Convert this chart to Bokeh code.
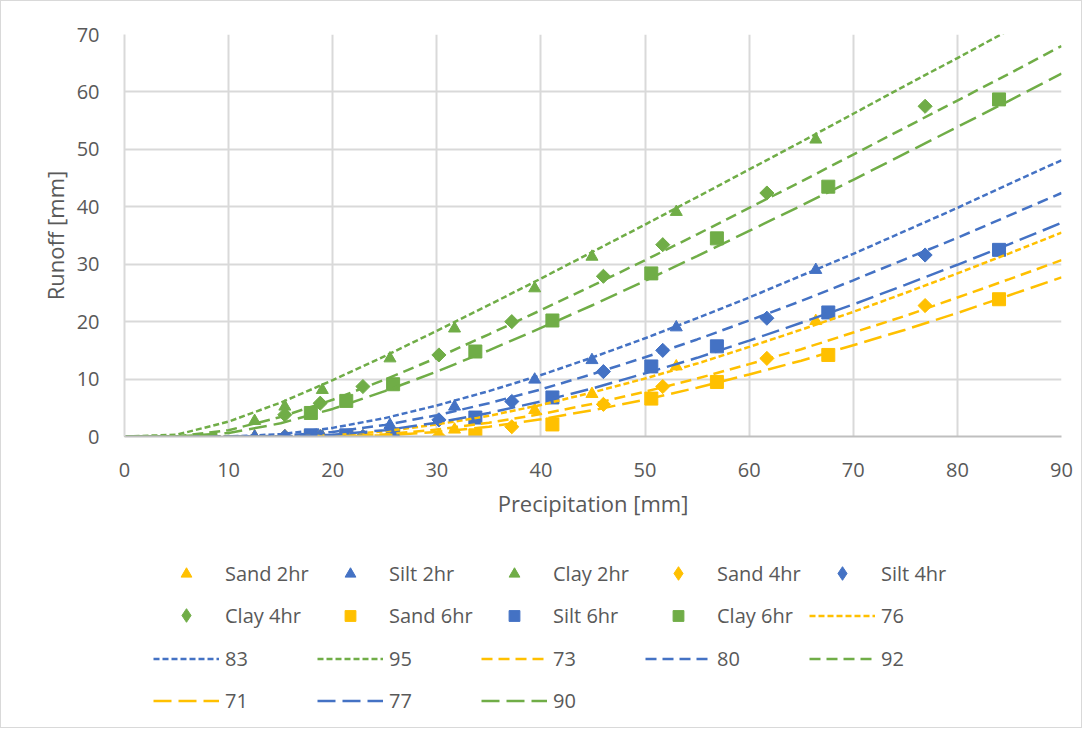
from bokeh.plotting import figure
from bokeh.layouts import column
from bokeh.models import Range1d, FixedTicker, Legend, LegendItem
from bokeh.embed import file_html
from bokeh.resources import INLINE

SAND = "#FFC000"
SILT = "#4472C4"
CLAY = "#70AD47"
TXT = "#595959"
FONT = "Open Sans"

# ---- measured points ----
P_2hr = [12.5, 15.4, 19.0, 25.5, 31.7, 39.4, 44.9, 53.0, 66.4]
sand_2hr = [0, 0, 0, 0, 1.2, 4.6, 7.4, 12.2, 20.1]
silt_2hr = [0, 0, 0, 2.0, 5.2, 9.9, 13.3, 19.0, 29.0]
clay_2hr = [2.7, 5.2, 8.1, 13.6, 18.8, 25.8, 31.3, 39.1, 51.7]

P_4hr = [15.4, 18.8, 22.9, 30.2, 37.2, 46.0, 51.7, 61.7, 76.9]
sand_4hr = [0, 0, 0, 0, 1.7, 5.6, 8.7, 13.6, 22.8]
silt_4hr = [0, 0, 0, 2.9, 6.1, 11.3, 15.0, 20.6, 31.6]
clay_4hr = [3.8, 5.8, 8.7, 14.2, 20.0, 27.9, 33.4, 42.4, 57.5]

P_6hr = [17.9, 21.3, 25.8, 33.7, 41.1, 50.6, 56.9, 67.6, 84.0]
sand_6hr = [0, 0, 0, 0.2, 2.1, 6.6, 9.5, 14.2, 23.9]
silt_6hr = [0.2, 0.2, 0.4, 3.3, 6.8, 12.2, 15.7, 21.6, 32.5]
clay_6hr = [4.1, 6.2, 9.1, 14.8, 20.2, 28.4, 34.5, 43.5, 58.7]

# ---- curve-number lines ----
P_curve = [0, 5, 10, 15, 20, 25, 30, 35, 40, 45, 50, 55, 60, 65, 70, 75, 80, 85, 90]
cn76 = [0, 0, 0, 0, 0.2, 0.9, 2.1, 3.6, 5.5, 7.7, 10.1, 12.7, 15.6, 18.6, 21.7, 25.0, 28.4, 31.9, 35.5]
cn83 = [0, 0, 0, 0.4, 1.5, 3.2, 5.4, 7.9, 10.7, 13.8, 17.1, 20.6, 24.2, 28.0, 31.8, 35.8, 39.8, 44.0, 48.1]
cn95 = [0, 0.3, 2.6, 5.9, 9.8, 14.0, 18.4, 22.9, 27.5, 32.2, 36.9, 41.7, 46.5, 51.3, 56.2, 61.1, 65.9, 70.8, 75.7]
cn73 = [0, 0, 0, 0, 0.0, 0.4, 1.2, 2.4, 3.9, 5.7, 7.8, 10.1, 12.6, 15.2, 18.1, 21.0, 24.2, 27.4, 30.7]
cn80 = [0, 0, 0, 0.1, 0.8, 2.0, 3.7, 5.8, 8.2, 10.9, 13.8, 16.9, 20.2, 23.6, 27.2, 30.9, 34.6, 38.5, 42.4]
cn92 = [0, 0.0, 1.1, 3.4, 6.4, 9.9, 13.7, 17.8, 22.0, 26.3, 30.7, 35.2, 39.8, 44.4, 49.1, 53.8, 58.5, 63.2, 68.0]
cn71 = [0, 0, 0, 0, 0, 0.2, 0.8, 1.7, 3.0, 4.6, 6.4, 8.5, 10.8, 13.2, 15.9, 18.6, 21.5, 24.6, 27.7]
cn77 = [0, 0, 0, 0, 0.3, 1.1, 2.4, 4.1, 6.1, 8.4, 11.0, 13.7, 16.7, 19.8, 23.0, 26.4, 29.9, 33.5, 37.2]
cn90 = [0, 0, 0.6, 2.3, 4.8, 7.9, 11.3, 15.0, 18.9, 22.9, 27.1, 31.4, 35.8, 40.2, 44.7, 49.3, 53.9, 58.5, 63.2]

x_ticks = [0, 10, 20, 30, 40, 50, 60, 70, 80, 90]
y_ticks = [0, 10, 20, 30, 40, 50, 60, 70]

scatter_series = [
    ("Sand 2hr", P_2hr, sand_2hr, "triangle", SAND),
    ("Silt 2hr", P_2hr, silt_2hr, "triangle", SILT),
    ("Clay 2hr", P_2hr, clay_2hr, "triangle", CLAY),
    ("Sand 4hr", P_4hr, sand_4hr, "diamond", SAND),
    ("Silt 4hr", P_4hr, silt_4hr, "diamond", SILT),
    ("Clay 4hr", P_4hr, clay_4hr, "diamond", CLAY),
    ("Sand 6hr", P_6hr, sand_6hr, "square", SAND),
    ("Silt 6hr", P_6hr, silt_6hr, "square", SILT),
    ("Clay 6hr", P_6hr, clay_6hr, "square", CLAY),
]
SHORT, MED, LONG = "6 3", "11 6", "18 7"
line_series = [
    ("76", cn76, SAND, SHORT), ("83", cn83, SILT, SHORT), ("95", cn95, CLAY, SHORT),
    ("73", cn73, SAND, MED), ("80", cn80, SILT, MED), ("92", cn92, CLAY, MED),
    ("71", cn71, SAND, LONG), ("77", cn77, SILT, LONG), ("90", cn90, CLAY, LONG),
]
LW = 2.5


def add_scatter(fig, x, y, shape, color, legend=False):
    if shape == "triangle":
        return fig.scatter(x, y, marker="triangle", size=12, color=color)
    if shape == "diamond":
        if legend:
            return fig.scatter(x, y, marker="diamond", size=14, color=color)
        return fig.scatter(x, y, marker="square", angle=0.7854, size=10, color=color)
    return fig.scatter(x, y, marker="square", size=13, color=color)


# ---------------- main chart ----------------
W = 1080
H1 = 530
p = figure(width=W, height=H1, output_backend="svg", toolbar_location=None,
           x_range=Range1d(0, 90), y_range=Range1d(0, 70),
           min_border_left=123, min_border_right=W - 123 - 937, min_border_top=33,
           min_border_bottom=H1 - 33 - 402)
p.outline_line_color = None
p.background_fill_color = "white"
p.border_fill_color = "white"

for ax in (p.xaxis[0], p.yaxis[0]):
    ax.major_tick_line_color = None
    ax.minor_tick_line_color = None
    ax.major_label_text_font = FONT
    ax.major_label_text_font_size = "20px"
    ax.major_label_text_color = TXT
    ax.axis_label_text_font = FONT
    ax.axis_label_text_font_size = "22px"
    ax.axis_label_text_font_style = "normal"
    ax.axis_label_text_color = TXT

p.xaxis[0].major_label_standoff = 20
p.xaxis[0].axis_label_standoff = 8
p.yaxis[0].major_label_standoff = 19
p.yaxis[0].axis_label_standoff = 4

p.xaxis[0].ticker = FixedTicker(ticks=x_ticks)
p.yaxis[0].ticker = FixedTicker(ticks=y_ticks)
p.xaxis[0].axis_label = "Precipitation [mm]"
p.yaxis[0].axis_label = "Runoff [mm]"
p.xaxis[0].axis_line_color = "#BFBFBF"
p.xaxis[0].axis_line_width = 2
p.yaxis[0].axis_line_color = "#D9D9D9"
p.yaxis[0].axis_line_width = 2

for g in (p.xgrid[0], p.ygrid[0]):
    g.grid_line_color = "#D9D9D9"
    g.grid_line_width = 2

for name, x, y, shape, color in scatter_series:
    add_scatter(p, x, y, shape, color)
for name, y, color, dash in line_series:
    p.line(P_curve, y, color=color, line_width=LW, line_dash=dash)

# ---------------- legend panel ----------------
LH = 196
q = figure(width=W, height=LH, output_backend="svg", toolbar_location=None,
           x_range=Range1d(0, 1), y_range=Range1d(0, 1),
           x_axis_location=None, y_axis_location=None,
           min_border=0, min_border_left=0, min_border_right=0,
           min_border_top=0, min_border_bottom=0)
q.outline_line_color = None
q.xgrid.visible = False
q.ygrid.visible = False

lr = {}
shape_of = {}
for name, x, y, shape, color in scatter_series:
    lr[name] = add_scatter(q, [-5], [-5], shape, color, legend=True)
    shape_of[name] = shape
for name, y, color, dash in line_series:
    lr[name] = q.line([-5, -4], [-5, -5], color=color, line_width=LW, line_dash=dash)
    shape_of[name] = "line"

rows = [
    ["Sand 2hr", "Silt 2hr", "Clay 2hr", "Sand 4hr", "Silt 4hr"],
    ["Clay 4hr", "Sand 6hr", "Silt 6hr", "Clay 6hr", "76"],
    ["83", "95", "73", "80", "92"],
    ["71", "77", "90"],
]
row_centers = [572, 614, 657, 699]
col_pitch = 164
x0 = 152 - 123  # legend start relative to plot frame (frames are aligned)
for names, cy in zip(rows, row_centers):
    for c, n in enumerate(names):
        gh = 34 if shape_of[n] == "diamond" else 27
        vy = (H1 + LH) - (cy + gh / 2)
        lg = Legend(items=[LegendItem(label=n, renderers=[lr[n]])],
                    location=(x0 + c * col_pitch, vy), orientation="horizontal",
                    glyph_width=66, glyph_height=gh, label_standoff=6,
                    label_width=88, label_height=gh, spacing=0,
                    padding=0, margin=0, border_line_color=None,
                    background_fill_alpha=0,
                    label_text_font=FONT, label_text_font_size="20px",
                    label_text_color=TXT)
        q.add_layout(lg, "center")

layout = column(p, q, spacing=0, styles={"border": "1px solid #D9D9D9"})
open("out.html", "w").write(file_html(layout, INLINE))
